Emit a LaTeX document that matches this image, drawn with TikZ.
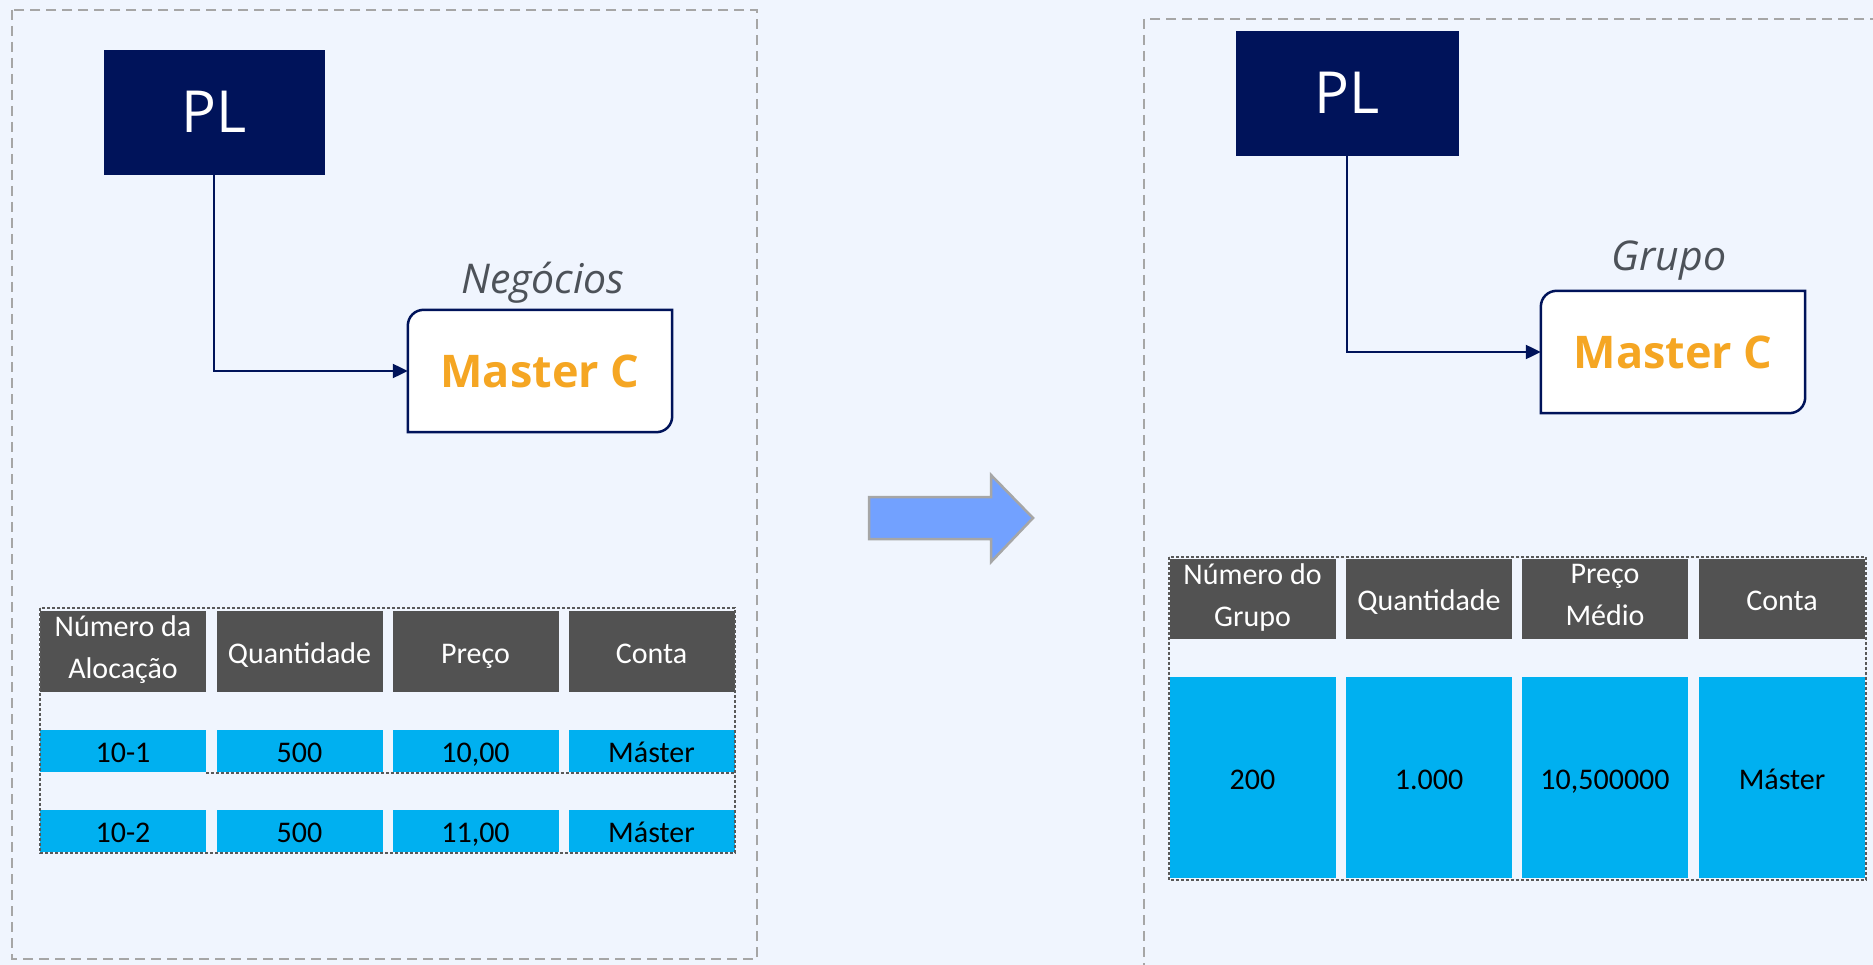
\documentclass[tikz,border=0pt]{standalone}
\usepackage{fontspec}
\setmainfont{Open Sans}
\newfontfamily\calib{Carlito}
\usetikzlibrary{arrows.meta,calc}
\definecolor{bg}{HTML}{F0F5FE}
\definecolor{navy}{HTML}{00135A}
\definecolor{orng}{HTML}{F5A623}
\definecolor{hdrgray}{HTML}{525252}
\definecolor{cellblue}{HTML}{00B0F0}
\definecolor{boxgray}{HTML}{A6A6A6}
\definecolor{lblgray}{HTML}{4D5259}
\definecolor{arrfill}{HTML}{72A1FF}
\tikzset{
  plbox/.style={fill=navy, draw=navy, text=white, minimum width=220pt, minimum height=124pt, inner sep=0pt, font=\fontsize{58}{60}\selectfont},
  mcbox/.style={minimum width=264pt, minimum height=122pt, inner sep=0pt, text=orng, font=\fontsize{45}{48}\selectfont\bfseries},
  mcline/.style={draw=navy, fill=white, line width=2.5pt},
  lbl/.style={text=lblgray, font=\fontsize{41}{43}\selectfont\itshape},
  conn/.style={draw=navy, line width=2.2pt, -{Triangle[length=15pt,width=14pt]}},
  frame/.style={draw=boxgray, line width=2pt, dash pattern=on 10pt off 6pt},
  tframe/.style={draw=black!65, line width=1.3pt, dash pattern=on 3pt off 2pt},
  cellbase/.style={inner sep=0pt, align=center, font=\calib\fontsize{30}{42}\selectfont,
    execute at begin node={\rule{0pt}{31pt}}, execute at end node={\rule[-8pt]{0pt}{8pt}}},
  hdr/.style={cellbase, fill=hdrgray, text=white},
  dat/.style={cellbase, fill=cellblue, text=black},
}
\begin{document}
\begin{tikzpicture}[x=1pt,y=-1pt]
\useasboundingbox[fill=bg] (0,0) rectangle (1873,965);
% dashed frames
\draw[frame] (12,10) rectangle (757,959);
\draw[frame] (1880,19) -- (1144,19) -- (1144,975);

% ---------- left side ----------
\node[plbox] (pl1) at (214,112) {PL};
\node[mcbox] (mc1) at (540,371) {};
\draw[mcline] (mc1.south west) -- ([yshift=-16pt]mc1.north west)
  .. controls ([yshift=-7pt]mc1.north west) and ([xshift=7pt]mc1.north west) .. ([xshift=16pt]mc1.north west)
  -- (mc1.north east) -- ([yshift=16pt]mc1.south east)
  .. controls ([yshift=7pt]mc1.south east) and ([xshift=-7pt]mc1.south east) .. ([xshift=-16pt]mc1.south east)
  -- cycle;
\node[mcbox] at (mc1.center) {Master C};
\node[lbl] (neg) at (543,283) {Negócios};
\draw[conn] (pl1.south) |- (mc1.west);

% left table
\begin{scope}[minimum width=166pt]
\node[hdr, minimum height=81pt] (h11) at (123,651.5) {Número da\\Alocação};
\node[hdr, minimum height=81pt] (h12) at (299.5,651.5) {Quantidade};
\node[hdr, minimum height=81pt] (h13) at (475.5,651.5) {Preço};
\node[hdr, minimum height=81pt] (h14) at (651.5,651.5) {Conta};
\node[dat, minimum height=42pt] (a11) at (123,751) {10-1};
\node[dat, minimum height=42pt] (a12) at (299.5,751) {500};
\node[dat, minimum height=42pt] (a13) at (475.5,751) {10,00};
\node[dat, minimum height=42pt] (a14) at (651.5,751) {Máster};
\node[dat, minimum height=42pt] (a21) at (123,831) {10-2};
\node[dat, minimum height=42pt] (a22) at (299.5,831) {500};
\node[dat, minimum height=42pt] (a23) at (475.5,831) {11,00};
\node[dat, minimum height=42pt] (a24) at (651.5,831) {Máster};
\end{scope}
\draw[tframe] (40,608) rectangle (735,853);
\draw[tframe] (206,773) -- (735,773);

% arrow between panels
\draw[draw=boxgray, fill=arrfill, line width=2.5pt, line join=miter]
  (869,497) -- (991,497) -- (991,475) -- (1033,518) -- (991,562) -- (991,539) -- (869,539) -- cycle;

% ---------- right side ----------
\node[plbox, minimum width=222pt] (pl2) at (1347,93) {PL};
\node[mcbox] (mc2) at (1673,352) {};
\draw[mcline] (mc2.south west) -- ([yshift=-16pt]mc2.north west)
  .. controls ([yshift=-7pt]mc2.north west) and ([xshift=7pt]mc2.north west) .. ([xshift=16pt]mc2.north west)
  -- (mc2.north east) -- ([yshift=16pt]mc2.south east)
  .. controls ([yshift=7pt]mc2.south east) and ([xshift=-7pt]mc2.south east) .. ([xshift=-16pt]mc2.south east)
  -- cycle;
\node[mcbox] at (mc2.center) {Master C};
\node[lbl] (grp) at (1669,261) {Grupo};
\draw[conn] (pl2.south) |- (mc2.west);

% right table
\begin{scope}[minimum width=166pt]
\node[hdr, minimum height=80pt] (h21) at (1252.5,599) {Número do\\Grupo};
\node[hdr, minimum height=80pt] (h22) at (1429,599) {Quantidade};
\node[hdr, minimum height=80pt] (h23) at (1605,599) {Preço\\Médio};
\node[hdr, minimum height=80pt] (h24) at (1782,599) {Conta};
\node[dat, minimum height=201pt] (b1) at (1252.5,777.5) {200};
\node[dat, minimum height=201pt] (b2) at (1429,777.5) {1.000};
\node[dat, minimum height=201pt] (b3) at (1605,777.5) {10,500000};
\node[dat, minimum height=201pt] (b4) at (1782,777.5) {Máster};
\end{scope}
\draw[tframe] (1169,557) rectangle (1866,880);
\end{tikzpicture}
\end{document}
